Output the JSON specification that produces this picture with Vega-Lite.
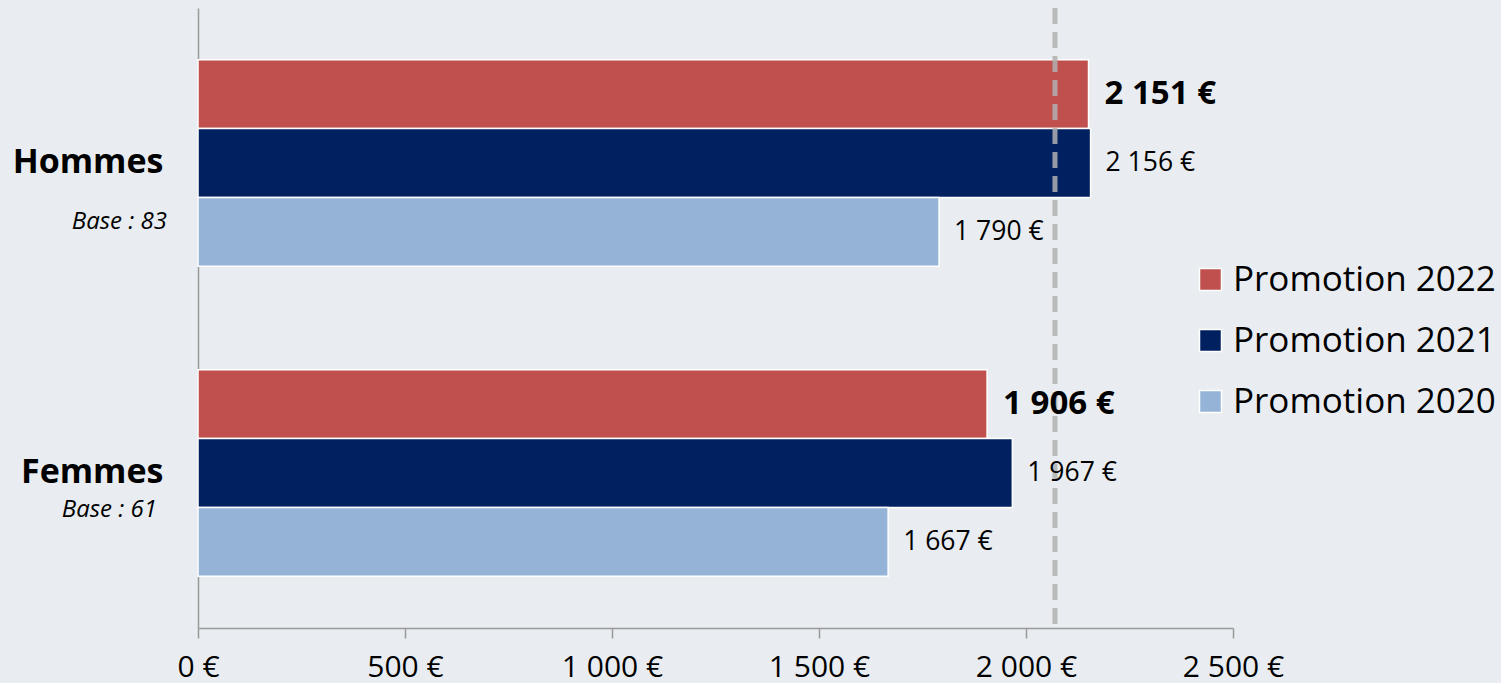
{
  "$schema": "https://vega.github.io/schema/vega-lite/v6.json",
  "width": 1035,
  "height": 620,
  "autosize": {"type": "none"},
  "padding": {"left": 198, "top": 8, "right": 268, "bottom": 55},
  "background": "#E9EDF1",
  "config": {
    "locale": {"number": {"decimal": ",", "thousands": " ", "grouping": [3], "currency": ["", " €"]}},
    "view": {"stroke": null},
    "font": "Open Sans"
  },
  "datasets": {
    "salaires": [
      {"sexe": "Hommes", "promotion": "Promotion 2022", "salaire": 2151},
      {"sexe": "Hommes", "promotion": "Promotion 2021", "salaire": 2156},
      {"sexe": "Hommes", "promotion": "Promotion 2020", "salaire": 1790},
      {"sexe": "Femmes", "promotion": "Promotion 2022", "salaire": 1906},
      {"sexe": "Femmes", "promotion": "Promotion 2021", "salaire": 1967},
      {"sexe": "Femmes", "promotion": "Promotion 2020", "salaire": 1667}
    ],
    "bases": [
      {"sexe": "Hommes", "base": "Base : 83"},
      {"sexe": "Femmes", "base": "Base : 61"}
    ],
    "reference": [{"valeur": 2070}]
  },
  "layer": [
    {
      "data": {"name": "salaires"},
      "mark": {"type": "bar", "stroke": "white", "strokeWidth": 1.5},
      "encoding": {
        "y": {
          "field": "sexe", "type": "nominal", "sort": ["Hommes", "Femmes"],
          "scale": {"paddingInner": 0, "paddingOuter": 0},
          "axis": {
            "title": null, "ticks": false, "domainColor": "#9a9a9a", "domainWidth": 1.5,
            "labelFontSize": 34, "labelFontWeight": "bold", "labelColor": "black",
            "labelPadding": 35, "labelAngle": 0
          }
        },
        "yOffset": {
          "field": "promotion", "type": "nominal",
          "sort": ["Promotion 2022", "Promotion 2021", "Promotion 2020"],
          "scale": {"paddingInner": 0, "paddingOuter": 0.75}
        },
        "x": {
          "field": "salaire", "type": "quantitative",
          "scale": {"domain": [0, 2500], "nice": false},
          "axis": {
            "title": null, "grid": false, "values": [0, 500, 1000, 1500, 2000, 2500],
            "format": "$,d", "domainColor": "#9a9a9a", "domainWidth": 1.5,
            "tickColor": "#9a9a9a", "tickWidth": 1.5, "tickSize": 10,
            "labelFontSize": 30, "labelColor": "black", "labelPadding": 14,
            "labelFlush": false, "labelOverlap": false
          }
        },
        "color": {
          "field": "promotion", "type": "nominal",
          "sort": ["Promotion 2022", "Promotion 2021", "Promotion 2020"],
          "scale": {
            "domain": ["Promotion 2022", "Promotion 2021", "Promotion 2020"],
            "range": ["#C0504D", "#002060", "#95B3D7"]
          },
          "legend": {
            "title": null, "orient": "none", "legendX": 995, "legendY": 254,
            "labelFontSize": 35, "labelColor": "black", "labelLimit": 400, "symbolType": "square",
            "symbolSize": 484, "symbolStrokeColor": "white", "symbolStrokeWidth": 1.5,
            "rowPadding": 25, "labelOffset": 5, "symbolOpacity": 1
          }
        }
      }
    },
    {
      "data": {"name": "reference"},
      "mark": {"type": "rule", "color": "#b0b0b0", "strokeWidth": 5, "strokeDash": [16, 8], "opacity": 0.85},
      "encoding": {"x": {"field": "valeur", "type": "quantitative"}}
    },
    {
      "data": {"name": "salaires"},
      "transform": [{"filter": "datum.promotion !== 'Promotion 2022'"}],
      "mark": {"type": "text", "align": "left", "baseline": "middle", "dx": 15, "fontSize": 26.5, "color": "black"},
      "encoding": {
        "y": {"field": "sexe", "type": "nominal", "sort": ["Hommes", "Femmes"]},
        "yOffset": {"field": "promotion", "type": "nominal", "sort": ["Promotion 2022", "Promotion 2021", "Promotion 2020"]},
        "x": {"field": "salaire", "type": "quantitative"},
        "text": {"field": "salaire", "type": "quantitative", "format": "$,d"}
      }
    },
    {
      "data": {"name": "salaires"},
      "transform": [{"filter": "datum.promotion === 'Promotion 2022'"}],
      "mark": {"type": "text", "align": "left", "baseline": "middle", "dx": 16, "fontSize": 33, "fontWeight": "bold", "color": "black"},
      "encoding": {
        "y": {"field": "sexe", "type": "nominal", "sort": ["Hommes", "Femmes"]},
        "yOffset": {"field": "promotion", "type": "nominal", "sort": ["Promotion 2022", "Promotion 2021", "Promotion 2020"]},
        "x": {"field": "salaire", "type": "quantitative"},
        "text": {"field": "salaire", "type": "quantitative", "format": "$,d"}
      }
    },
    {
      "data": {"name": "bases"},
      "transform": [{"filter": "datum.sexe === 'Hommes'"}],
      "mark": {"type": "text", "align": "right", "baseline": "middle", "dx": -31, "dy": 59, "fontSize": 24, "fontStyle": "italic", "color": "black"},
      "encoding": {
        "y": {"field": "sexe", "type": "nominal", "sort": ["Hommes", "Femmes"]},
        "x": {"datum": 0, "type": "quantitative"},
        "text": {"field": "base"}
      }
    },
    {
      "data": {"name": "bases"},
      "transform": [{"filter": "datum.sexe === 'Femmes'"}],
      "mark": {"type": "text", "align": "right", "baseline": "middle", "dx": -41, "dy": 37, "fontSize": 24, "fontStyle": "italic", "color": "black"},
      "encoding": {
        "y": {"field": "sexe", "type": "nominal", "sort": ["Hommes", "Femmes"]},
        "x": {"datum": 0, "type": "quantitative"},
        "text": {"field": "base"}
      }
    }
  ]
}
